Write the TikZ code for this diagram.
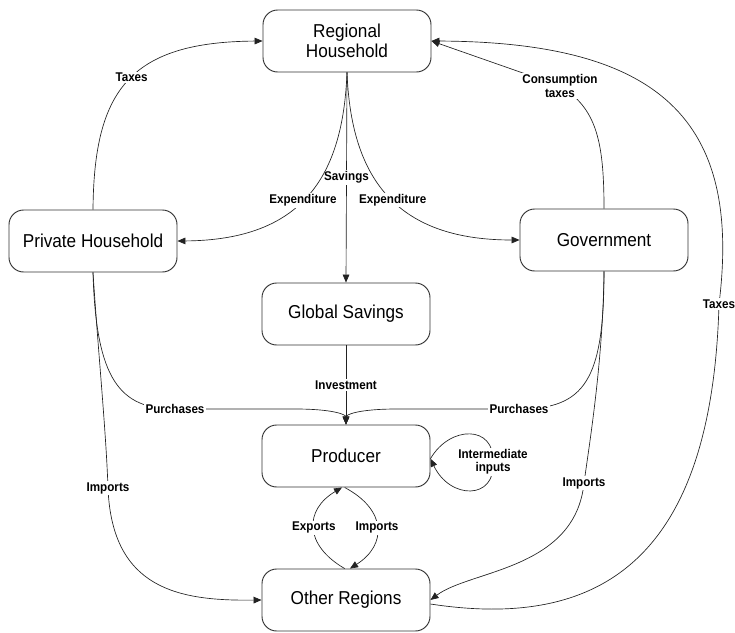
\documentclass[tikz,border=0pt]{standalone}
\usepackage{fontspec}
\setmainfont{Liberation Sans}[FakeStretch=0.92]
\newfontfamily\flowfont{Liberation Sans}[FakeStretch=0.92]
\usepackage{tikz}
\usetikzlibrary{arrows.meta}
\usepackage{xcolor}
\definecolor{boxline}{HTML}{333333}
\definecolor{flowline}{HTML}{222222}
\tikzset{
    block/.style={
        draw=boxline,
        line width=0.7pt,
        rounded corners=11pt,
        minimum width=126pt,
        minimum height=46.5pt,
        align=center,
        inner sep=2pt,
        font=\fontsize{14}{15}\selectfont
    },
    flow/.style={
        -{Triangle[length=6pt,width=5pt]},
        line width=0.5pt,
        color=flowline
    },
    flowlabel/.style={
        font=\flowfont\fontsize{9.5}{10}\selectfont\bfseries,
        fill=white,
        text=black,
        inner sep=1pt,
        align=center
    }
}

\begin{document}
\begin{tikzpicture}[x=0.75pt,y=-0.75pt]

    \useasboundingbox (0,0) rectangle (735,632);

    % Agents
    \node[block] (rh) at (347,41) {Regional\\Household};
    \node[block] (ph) at (93,241) {Private Household};
    \node[block] (gov) at (604,240) {Government};
    \node[block] (gs) at (346,314) {Global Savings};
    \node[block] (prod) at (346,456) {Producer};
    \node[block] (other) at (346,600) {Other Regions};

    % Taxes private household
    \draw[flow]
        (ph.north)
        .. controls (94,90) and (130,42) ..
        node[flowlabel,pos=0.52] {Taxes}
        (rh.west);

    % Consumption taxes
    \draw[flow]
        (gov.north)
        .. controls (604,140) and (596,108) ..
        (560,86)
        node[flowlabel] {Consumption\\taxes}
        -- (rh.east);

    % Taxes other regions
    \draw[flow]
        ([yshift=-3pt]other.east)
        .. controls (600,630) and (712,560) ..
        (719,304)
        node[flowlabel] {Taxes}
        .. controls (742,120) and (660,42) ..
        (rh.east);

    % Savings
    \draw[flow]
        (rh.south) --
        node[flowlabel] {Savings}
        (gs.north);

    % Expenditure
    \draw[flow]
        (rh.south)
        .. controls (343,176) and (303,240) ..
        node[flowlabel,pos=0.53] {Expenditure}
        (ph.east);

    \draw[flow]
        (rh.south)
        .. controls (351,176) and (394,240) ..
        node[flowlabel,pos=0.53] {Expenditure}
        (gov.west);

    % Investment
    \draw[flow]
        (gs.south) --
        node[flowlabel] {Investment}
        (prod.north);

    % Purchases
    \draw[flow]
        (ph.south)
        .. controls (96,380) and (120,409) ..
        (175,409)
        node[flowlabel] {Purchases}
        -- (295,409)
        .. controls (335,409) and (346,415) ..
        (prod.north);

    \draw[flow]
        (gov.south)
        .. controls (604,380) and (585,409) ..
        (519,409)
        node[flowlabel] {Purchases}
        -- (397,409)
        .. controls (357,409) and (346,415) ..
        (prod.north);

    % Intermediate inputs
    \draw[flow]
        ([yshift=-2pt]prod.east)
        .. controls (450,425) and (495,425) ..
        (493,462)
        node[flowlabel] {Intermediate\\inputs}
        .. controls (496,500) and (450,500) ..
        ([yshift=-2pt]prod.east);

    % Imports
    \draw[flow]
        (ph.south)
        .. controls (98,350) and (106,430) ..
        (108,488)
        node[flowlabel] {Imports}
        .. controls (112,590) and (180,601) ..
        (other.west);

    \draw[flow]
        (gov.south)
        .. controls (603,360) and (590,440) ..
        (584,483)
        node[flowlabel] {Imports}
        .. controls (575,570) and (470,570) ..
        (other.east);

    % Trade
    \draw[flow]
        ([xshift=-1pt]other.north)
        .. controls (304,545) and (304,510) ..
        node[flowlabel] {Exports}
        ([xshift=-3pt]prod.south);

    \draw[flow]
        ([xshift=-1pt]prod.south)
        .. controls (387,510) and (387,545) ..
        node[flowlabel] {Imports}
        ([xshift=3pt]other.north);

\end{tikzpicture}
\end{document}
